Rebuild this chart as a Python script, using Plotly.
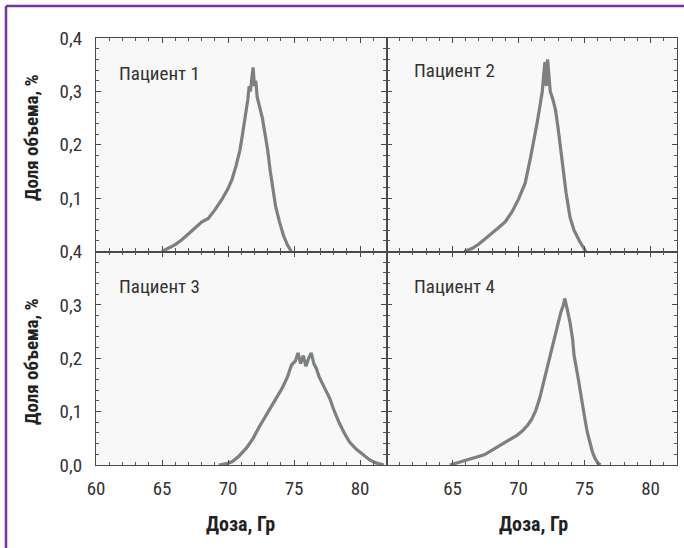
import plotly.graph_objects as go
from plotly.subplots import make_subplots

# ---- data ----
patients = ["Пациент 1", "Пациент 2", "Пациент 3", "Пациент 4"]

dose1 = [65.0, 65.5, 66.0, 66.5, 67.0, 67.5, 68.0, 68.5, 69.0, 69.5, 70.0, 70.3, 70.6, 70.9, 71.1,
         71.3, 71.5, 71.6, 71.7, 71.8, 71.9, 72.0, 72.1, 72.2, 72.4, 72.6, 72.8, 73.0, 73.2, 73.4,
         73.6, 73.9, 74.2, 74.5, 74.8]
vol1 = [0.0, 0.006, 0.013, 0.022, 0.034, 0.044, 0.055, 0.062, 0.078, 0.096, 0.118, 0.135, 0.16, 0.19, 0.22,
        0.25, 0.285, 0.31, 0.30, 0.325, 0.345, 0.31, 0.32, 0.29, 0.27, 0.25, 0.22, 0.19, 0.15, 0.115,
        0.085, 0.055, 0.03, 0.012, 0.0]

dose2 = [65.9, 66.5, 67.0, 67.5, 68.0, 68.5, 69.0, 69.5, 70.0, 70.5, 70.9, 71.2, 71.4, 71.6, 71.8,
         71.9, 72.0, 72.1, 72.2, 72.3, 72.4, 72.6, 72.8, 73.0, 73.2, 73.4, 73.6, 73.9, 74.2, 74.6, 75.1]
vol2 = [0.0, 0.006, 0.014, 0.024, 0.034, 0.045, 0.056, 0.074, 0.098, 0.128, 0.175, 0.21, 0.24, 0.27, 0.30,
        0.33, 0.355, 0.31, 0.36, 0.33, 0.30, 0.285, 0.265, 0.23, 0.19, 0.145, 0.11, 0.064, 0.04, 0.02, 0.0]

dose3 = [69.3, 69.8, 70.3, 70.8, 71.4, 71.9, 72.3, 72.8, 73.3, 73.7, 74.1, 74.5, 74.8, 75.1, 75.3,
         75.5, 75.7, 75.9, 76.1, 76.3, 76.5, 76.7, 76.9, 77.3, 77.7, 78.0, 78.4, 78.8, 79.2, 79.7,
         80.2, 80.7, 81.2, 81.8]
vol3 = [0.0, 0.002, 0.006, 0.016, 0.032, 0.05, 0.069, 0.09, 0.112, 0.128, 0.144, 0.165, 0.187, 0.195, 0.21,
        0.19, 0.205, 0.185, 0.2, 0.21, 0.19, 0.18, 0.165, 0.145, 0.125, 0.104, 0.08, 0.06, 0.043, 0.03,
        0.019, 0.01, 0.004, 0.0]

dose4 = [64.8, 65.5, 66.1, 66.8, 67.4, 68.0, 68.6, 69.2, 69.9, 70.3, 70.7, 71.0, 71.3, 71.6, 71.9,
         72.2, 72.5, 72.7, 73.0, 73.2, 73.4, 73.5, 73.7, 73.9, 74.1, 74.2, 74.5, 74.7, 75.0,
         75.2, 75.4, 75.6, 75.8, 76.0, 76.2]
vol4 = [0.0, 0.005, 0.009, 0.014, 0.019, 0.028, 0.037, 0.046, 0.056, 0.064, 0.075, 0.086, 0.102, 0.125, 0.155,
        0.187, 0.215, 0.237, 0.265, 0.286, 0.30, 0.312, 0.29, 0.267, 0.235, 0.206, 0.165, 0.131, 0.09,
        0.062, 0.04, 0.024, 0.012, 0.004, 0.0]

x_ticks = [60, 65, 70, 75, 80]
y_ticks = [0.0, 0.1, 0.2, 0.3, 0.4]
y_text_top = ["", "0,1", "0,2", "0,3", "0,4"]
y_text_bottom = ["0,0", "0,1", "0,2", "0,3", "0,4"]
x_text_left = ["60", "65", "70", "75", "80"]
x_text_right = ["", "65", "70", "75", "80"]

x_title = "Доза, Гр"
y_title = "Доля объема, %"

# ---- figure ----
FONT = "Roboto Condensed, Liberation Sans Narrow, DejaVu Sans Condensed, Arial Narrow, sans-serif"
W, H = 684, 548
L, R, T, B = 96, 7, 38, 83
pw, ph = W - L - R, H - T - B

def px_x(p):
    return (p - L) / pw

def px_y(p):
    return (H - B - p) / ph

fig = make_subplots(rows=2, cols=2, horizontal_spacing=0, vertical_spacing=0)

series = [(dose1, vol1, 1, 1), (dose2, vol2, 1, 2), (dose3, vol3, 2, 1), (dose4, vol4, 2, 2)]
for (d, v, r, c), name in zip(series, patients):
    fig.add_trace(go.Scatter(x=d, y=v, mode="lines", name=name, showlegend=False,
                             line=dict(color="rgba(118,121,124,0.95)", width=3.2)),
                  row=r, col=c)

axis_common = dict(showline=True, linecolor="#4a4a4a", linewidth=1.2, mirror="allticks",
                   ticks="inside", ticklen=5, tickcolor="#4a4a4a", tickwidth=1.3,
                   showgrid=False, zeroline=False,
                   tickfont=dict(family=FONT, size=19, color="#333333"))

for r in (1, 2):
    for c in (1, 2):
        if r == 2:
            tt = x_text_left if c == 1 else x_text_right
            fig.update_xaxes(tickmode="array", tickvals=x_ticks, ticktext=tt, showticklabels=True,
                             ticklabelstandoff=6, row=r, col=c)
        else:
            fig.update_xaxes(tickmode="array", tickvals=x_ticks, showticklabels=False, row=r, col=c)
        fig.update_xaxes(range=[60, 82],
                         minor=dict(tickmode="linear", tick0=60, dtick=1, ticks="inside", ticklen=3,
                                    tickcolor="#555555", tickwidth=1),
                         row=r, col=c, **axis_common)
        if c == 1:
            yt = y_text_top if r == 1 else y_text_bottom
            fig.update_yaxes(tickmode="array", tickvals=y_ticks, ticktext=yt, showticklabels=True,
                             ticklabelstandoff=9, row=r, col=c)
        else:
            fig.update_yaxes(tickmode="array", tickvals=y_ticks, showticklabels=False, row=r, col=c)
        fig.update_yaxes(range=[0, 0.4],
                         minor=dict(tickmode="linear", tick0=0, dtick=0.02, ticks="inside", ticklen=3,
                                    tickcolor="#555555", tickwidth=1),
                         row=r, col=c, **axis_common)

ann = []
label_pos = [(117, 73), (412, 71), (117, 286), (412, 286)]
for name, (lx, ly) in zip(patients, label_pos):
    ann.append(dict(text=name, xref="paper", yref="paper", x=px_x(lx), y=px_y(ly),
                    xanchor="left", yanchor="middle", showarrow=False,
                    font=dict(family=FONT, size=19, color="#333333")))
for cx in (240, 533):
    ann.append(dict(text="<b>" + x_title + "</b>", xref="paper", yref="paper", x=px_x(cx), y=px_y(524),
                    xanchor="center", yanchor="middle", showarrow=False,
                    font=dict(family=FONT, size=20, color="#222222")))
for cy in (138, 362):
    ann.append(dict(text="<b>" + y_title + "</b>", xref="paper", yref="paper", x=px_x(31), y=px_y(cy),
                    xanchor="center", yanchor="middle", textangle=-90, showarrow=False,
                    font=dict(family=FONT, size=19, color="#222222")))

shapes = [
    dict(type="line", xref="paper", yref="paper", x0=px_x(6), x1=px_x(W + 2), y0=px_y(6), y1=px_y(6),
         line=dict(color="#6e3aa0", width=2.5)),
    dict(type="line", xref="paper", yref="paper", x0=px_x(6), x1=px_x(6), y0=px_y(6), y1=px_y(H + 2),
         line=dict(color="#6e3aa0", width=2.5)),
]

fig.update_layout(width=W, height=H, margin=dict(l=L, r=R, t=T, b=B, autoexpand=False),
                  paper_bgcolor="white", plot_bgcolor="#f7f8f7",
                  annotations=ann, shapes=shapes, showlegend=False)

fig.write_html("out.html", config={"displayModeBar": False},
               post_script="document.body.style.margin='0';document.body.style.overflow='hidden';")
